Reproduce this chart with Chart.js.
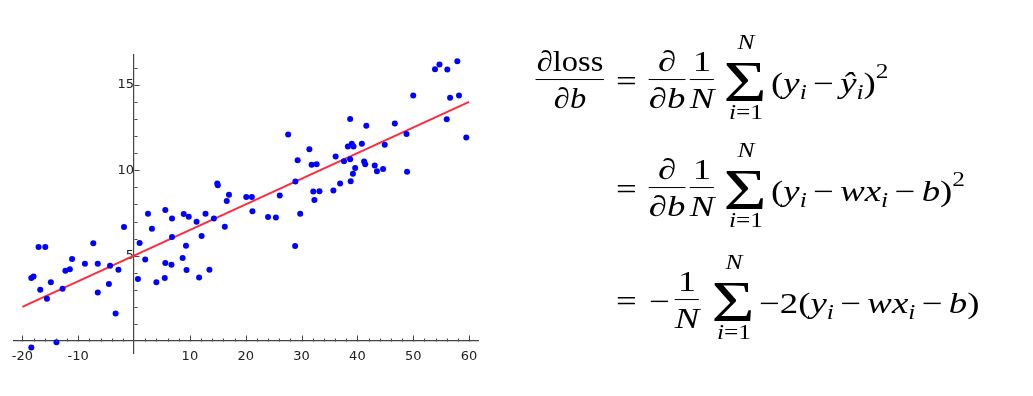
<!DOCTYPE html>
<html>
<head>
<meta charset="utf-8">
<script src="https://cdn.jsdelivr.net/npm/chart.js@4.4.1/dist/chart.umd.min.js"></script>
<style>
  html, body { margin: 0; padding: 0; background: #fff; width: 1033px; height: 396px; overflow: hidden; }
  #plot { position: absolute; left: 0; top: 0; width: 490px; height: 396px; }
  #math { position: absolute; left: 0; top: 0; width: 1033px; height: 396px;
          font-family: "Liberation Serif", serif; font-size: 29px; color: #000; }
  /* every piece is placed by its centre (c) or its left edge (l) */
  .c, .l { position: absolute; white-space: nowrap; line-height: 1; }
  .c { transform: translate(-50%, -50%) scaleX(1.27); transform-origin: 50% 50%; }
  .l { transform: translateY(-50%) scaleX(1.27); transform-origin: 0 50%; }
  .c.lhs { transform: translate(-50%, -50%) scaleX(1.12); }
  .frac { display: inline-flex; flex-direction: column; align-items: stretch; text-align: center; }
  .frac .n { border-bottom: 1.2px solid #000; padding: 0 1px 2px; line-height: 1.12; }
  .frac .d { line-height: 1.12; padding-top: 2px; }
  .sig { font-size: 57px; }
  .c.sig { transform: translate(-50%, -50%) scaleX(1.3); }
  .lim { font-size: 20px; }
  i { font-style: italic; }
  sub, sup { font-size: 20px; line-height: 0; }
  sub { vertical-align: -0.3em; }
  sup { vertical-align: 0.75em; }
  .op { margin: 0 5px; }
</style>
</head>
<body>
<div id="plot"><canvas id="myChart"></canvas></div>

<div id="math">
  <!-- row 1 -->
  <span class="c frac lhs" style="left:570px;top:80px"><span class="n">∂loss</span><span class="d">∂<i>b</i></span></span>
  <span class="l" style="left:616px;top:81px">=</span>
  <span class="c frac" style="left:667px;top:80px"><span class="n">∂</span><span class="d">∂<i>b</i></span></span>
  <span class="c frac" style="left:702px;top:80px"><span class="n">1</span><span class="d"><i>N</i></span></span>
  <span class="c lim" style="left:746px;top:42px"><i>N</i></span>
  <span class="c sig" style="left:745px;top:81px">Σ</span>
  <span class="c lim" style="left:746px;top:112px"><i>i</i>=1</span>
  <span class="l" style="left:771px;top:83px">(<i>y</i><sub><i>i</i></sub><span class="op">−</span><i>ŷ</i><sub><i>i</i></sub>)<sup>2</sup></span>

  <!-- row 2 -->
  <span class="l" style="left:616px;top:189px">=</span>
  <span class="c frac" style="left:667px;top:188px"><span class="n">∂</span><span class="d">∂<i>b</i></span></span>
  <span class="c frac" style="left:702px;top:188px"><span class="n">1</span><span class="d"><i>N</i></span></span>
  <span class="c lim" style="left:746px;top:150px"><i>N</i></span>
  <span class="c sig" style="left:745px;top:189px">Σ</span>
  <span class="c lim" style="left:746px;top:220px"><i>i</i>=1</span>
  <span class="l" style="left:771px;top:191px">(<i>y</i><sub><i>i</i></sub><span class="op">−</span><i>wx</i><sub><i>i</i></sub><span class="op">−</span><i>b</i>)<sup>2</sup></span>

  <!-- row 3 -->
  <span class="l" style="left:616px;top:301px">=</span>
  <span class="l" style="left:649px;top:301px">−</span>
  <span class="c frac" style="left:687px;top:300px"><span class="n">1</span><span class="d"><i>N</i></span></span>
  <span class="c lim" style="left:734px;top:262px"><i>N</i></span>
  <span class="c sig" style="left:733px;top:301px">Σ</span>
  <span class="c lim" style="left:734px;top:332px"><i>i</i>=1</span>
  <span class="l" style="left:759px;top:303px">−2(<i>y</i><sub><i>i</i></sub><span class="op">−</span><i>wx</i><sub><i>i</i></sub><span class="op">−</span><i>b</i>)</span>
</div>

<script>
// scatter data
const xValues = [-18.4, -18.0, -17.1, -15.9, -16.8, -15.6, -14.9, -13.9, -18.4, -12.8,
  -12.3, -11.5, -11.1, -8.8, -7.3, -6.5, -6.5, -4.5, -4.3, -3.3,
  -2.8, -1.8, 0.7, 1.0, 2.0, 2.5, 3.2, 4.0, 5.5, 5.6,
  5.6, 6.7, 6.8, 6.8, 8.7, 8.9, 9.3, 9.4, 9.8, 11.2,
  11.65, 12.1, 12.8, 13.5, 14.3, 14.9, 15.0, 16.25, 16.6, 17.0,
  20.1, 21.1, 21.2, 24.0, 25.4, 26.1, 27.6, 28.85, 28.9, 29.3,
  29.75, 31.4, 31.8, 32.7, 32.1, 32.3, 33.2, 35.7, 36.1, 36.9,
  37.6, 38.7, 38.8, 38.7, 38.3, 39.0, 39.3, 39.2, 39.6, 40.8,
  41.6, 41.2, 41.4, 43.1, 43.5, 44.6, 44.9, 46.7, 48.8, 48.9,
  50.0, 53.9, 54.7, 56.1, 57.9, 56.0, 56.6, 58.2, 59.5];
const yValues = [3.69, 3.78, 5.51, 5.51, 3.0, 2.47, 3.45, -0.07, -0.38, 3.06,
  4.12, 4.2, 4.8, 4.53, 5.72, 4.53, 2.85, 3.34, 4.41, 1.61,
  4.18, 6.68, 3.63, 5.74, 4.78, 7.46, 6.58, 3.45, 3.69, 4.57,
  7.68, 4.47, 6.09, 7.18, 4.86, 7.44, 5.58, 4.16, 7.28, 6.99,
  3.72, 6.15, 7.46, 4.18, 7.17, 9.22, 9.12, 6.7, 8.2, 8.57,
  8.44, 8.44, 7.6, 7.27, 7.24, 8.52, 12.09, 5.57, 9.34, 10.59,
  7.46, 11.23, 10.33, 10.35, 8.75, 8.26, 8.77, 8.81, 10.8, 9.22,
  10.53, 10.65, 9.36, 13.0, 11.39, 11.55, 11.39, 9.79, 10.14, 11.55,
  12.6, 10.51, 10.35, 10.28, 9.94, 10.08, 11.49, 12.74, 12.13, 9.92,
  14.38, 15.92, 16.2, 15.9, 16.38, 12.99, 14.25, 14.38, 11.92];

// fitted line end points
const fitX = [-20, 60];
const fitY = [2, 14];

// labelled ticks
const xTickLabels = [-20, -10, 10, 20, 30, 40, 50, 60];
const yTickLabels = [5, 10, 15];

const points = xValues.map((x, i) => ({ x: x, y: yValues[i] }));
const fitLine = fitX.map((x, i) => ({ x: x, y: fitY[i] }));

// small tick marks along the axes (major every 10 / 5, minor between)
const tickMarks = {
  id: 'tickMarks',
  afterDatasetsDraw(chart) {
    const { ctx, scales: { x, y } } = chart;
    const x0 = Math.round(x.getPixelForValue(0)) + 0.5;
    const y0 = Math.round(y.getPixelForValue(0)) + 0.5;
    ctx.save();
    ctx.strokeStyle = '#444';
    ctx.lineWidth = 1;
    ctx.beginPath();
    for (let v = -20; v <= 60; v += 2) {
      if (v === 0) continue;
      const px = Math.round(x.getPixelForValue(v)) + 0.5;
      const len = xTickLabels.includes(v) ? 6 : 3;
      ctx.moveTo(px, y0);
      ctx.lineTo(px, y0 - len);
    }
    for (let v = 1; v <= 16; v++) {
      const py = Math.round(y.getPixelForValue(v)) + 0.5;
      const len = yTickLabels.includes(v) ? 5 : 3;
      ctx.moveTo(x0, py);
      ctx.lineTo(x0 + len, py);
    }
    ctx.stroke();
    ctx.restore();
  }
};

const config = {
  type: 'scatter',
  data: {
    datasets: [
      {
        label: 'data',
        data: points,
        backgroundColor: '#0000ff',
        borderColor: '#0000ff',
        pointRadius: 3,
        pointBorderWidth: 0,
      },
      {
        type: 'line',
        label: 'fit',
        data: fitLine,
        borderColor: '#ff2a3a',
        borderWidth: 2,
        pointRadius: 0,
        fill: false,
      },
    ],
  },
  options: {
    responsive: true,
    maintainAspectRatio: false,
    animation: false,
    layout: { padding: { left: 14, right: 12, top: 55, bottom: 43 } },
    plugins: {
      legend: { display: false },
      tooltip: { enabled: false },
    },
    scales: {
      x: {
        type: 'linear',
        min: -21.5,
        max: 61.6,
        position: { y: 0 },
        grid: { display: false },
        border: { display: true, color: '#444', width: 1.2 },
        ticks: {
          stepSize: 10,
          includeBounds: false,
          autoSkip: false,
          maxRotation: 0,
          padding: 0,
          color: '#222',
          font: { family: 'DejaVu Sans', size: 13 },
          callback: (v) => (xTickLabels.includes(v) ? String(v) : ''),
        },
      },
      y: {
        type: 'linear',
        min: -0.7,
        max: 16.75,
        position: { x: 0 },
        grid: { display: false },
        border: { display: true, color: '#444', width: 1.2 },
        ticks: {
          stepSize: 5,
          includeBounds: false,
          autoSkip: false,
          padding: 4,
          color: '#222',
          font: { family: 'DejaVu Sans', size: 13 },
          callback: (v) => (yTickLabels.includes(v) ? String(v) : ''),
        },
      },
    },
  },
  plugins: [tickMarks],
};

const myChart = new Chart(document.getElementById('myChart'), config);
</script>
</body>
</html>
